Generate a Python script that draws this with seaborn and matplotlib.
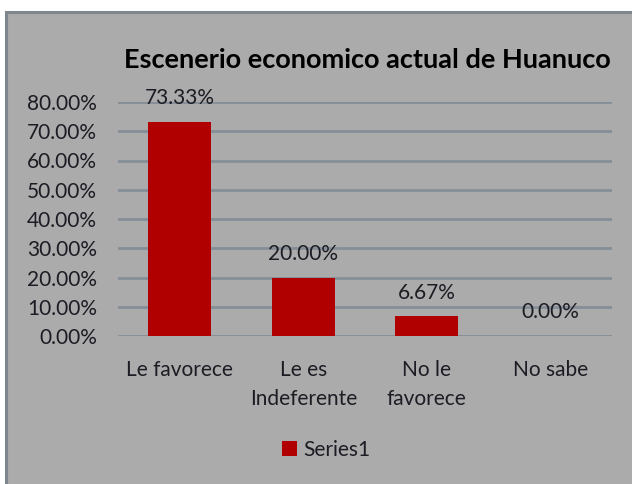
import pandas as pd
import matplotlib
matplotlib.use('Agg')
import matplotlib.pyplot as plt
import seaborn as sns
from matplotlib.patches import Rectangle
from matplotlib.ticker import FuncFormatter

categories = ["Le favorece", "Le es\nIndeferente", "No le\nfavorece", "No sabe"]
values = [0.7333, 0.20, 0.0667, 0.0]
series = ["Series1"] * 4
title = "Escenerio economico actual de Huanuco"

sns.set_style("white")
plt.rcParams['font.family'] = ['Lato', 'DejaVu Sans']

bg = "#ababab"
txt = "#1c1c24"
bar_color = "#b00000"
fs = 15

df = pd.DataFrame({"cat": categories, "val": values, "series": series})

fig = plt.figure(figsize=(6.32, 4.84), dpi=100)
fig.patch.set_facecolor("white")
fig.patches.append(Rectangle((6 / 632, -0.05), 1.0, 1 - 12 / 484 + 0.05, transform=fig.transFigure,
                             facecolor=bg, edgecolor="#7f868d", linewidth=2.2, zorder=-5))

ax = fig.add_axes([118 / 632, 1 - 336 / 484, 494 / 632, 234 / 484])
ax.set_zorder(2)
ax.patch.set_alpha(0)

sns.barplot(data=df, x="cat", y="val", hue="series", palette=[bar_color], saturation=1,
            width=0.51, linewidth=0, ax=ax, zorder=3)

ax.set_ylim(0, 0.8)
ax.set_yticks([i / 10 for i in range(9)])
ax.yaxis.set_major_formatter(FuncFormatter(lambda v, p: f"{v * 100:.2f}%"))
ax.grid(axis="y", color="#858e96", linewidth=2, zorder=0)
ax.set_axisbelow(True)
for s in ax.spines.values():
    s.set_visible(False)
ax.tick_params(axis="both", length=0, labelsize=fs, colors=txt)
ax.tick_params(axis="y", pad=15)
ax.tick_params(axis="x", pad=17.5)
for lab in ax.get_xticklabels():
    lab.set_linespacing(1.52)
    lab.set_va("top")
ax.set_xlabel("")
ax.set_ylabel("")

ax.bar_label(ax.containers[0], labels=[f"{v * 100:.2f}%" for v in values], padding=10, fontsize=fs, color=txt)

fig.text(367 / 632, 1 - 60 / 484, title, ha="center", va="center", fontsize=19.5, fontweight="bold", color="#000000")

leg = ax.legend(loc="center", bbox_to_anchor=(326 / 632, 1 - 450 / 484), bbox_transform=fig.transFigure,
                frameon=False, fontsize=fs, handlelength=0.7, handleheight=0.7, handletextpad=0.3)
for t in leg.get_texts():
    t.set_color(txt)

fig.savefig("out.png", dpi=100, facecolor="white")
